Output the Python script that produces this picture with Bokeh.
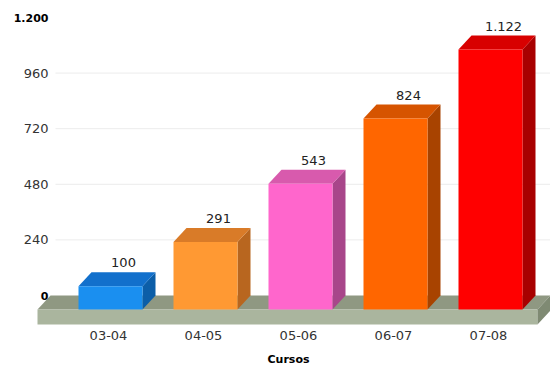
from bokeh.plotting import figure
from bokeh.models import Range1d
from bokeh.core.properties import value
from bokeh.embed import file_html
from bokeh.resources import INLINE

# ---- data ----
categories = ["03-04", "04-05", "05-06", "06-07", "07-08"]
values = [100, 291, 543, 824, 1122]
value_labels = ["100", "291", "543", "824", "1.122"]
y_ticks = [0, 240, 480, 720, 960, 1200]
y_tick_labels = ["0", "240", "480", "720", "960", "1.200"]
x_title = "Cursos"

# ---- styling / geometry (pixels) ----
front_colors = ["#1a8ff0", "#ff9933", "#ff66cc", "#ff6600", "#ff0000"]
top_colors = ["#1270cc", "#d97b28", "#d85aad", "#d65400", "#d80000"]
side_colors = ["#0c5ea8", "#b8661f", "#a8468a", "#a84300", "#a80000"]

W, H = 550, 367
X0_PX = 110.0        # pixel x of first bar front centre
STEP_PX = 95.0       # pixels per category
ZERO_PX = 295.0      # pixel y of value 0 (back plane)
PPU = 278.0 / 1200   # pixels per value unit

def xu(px):  # pixels -> x data units (offset)
    return px / STEP_PX

def yu(px):
    return px / PPU

DX = xu(13)
DY = yu(14)
HALF = xu(32)
TH = yu(15)

p = figure(width=W, height=H, output_backend="svg", toolbar_location=None,
           x_range=Range1d(-X0_PX / STEP_PX, (W - X0_PX) / STEP_PX),
           y_range=Range1d(-(H - ZERO_PX) / PPU, ZERO_PX / PPU),
           x_axis_location=None, y_axis_location=None, min_border=0)
p.outline_line_color = None
p.xgrid.visible = False
p.ygrid.visible = False
p.background_fill_color = "white"
p.border_fill_color = "white"

# gridlines (back plane)
grid_vals = [t for t in y_ticks if 0 < t < 1200]
p.segment(x0=[xu(55 - X0_PX)] * len(grid_vals), x1=[xu(W - X0_PX)] * len(grid_vals),
          y0=grid_vals, y1=grid_vals, line_color="#ececec", line_width=1)

# floor
fl = xu(37 - X0_PX)
fr = xu(537 - X0_PX)
p.patch([fl, fr, fr + DX, fl + DX], [-DY, -DY, 0, 0], fill_color="#8f9882", line_color=None)
p.patch([fl, fr, fr, fl], [-DY - TH, -DY - TH, -DY, -DY], fill_color="#aab59e", line_color=None)
p.patch([fr, fr + DX, fr + DX, fr], [-DY - TH, -TH, 0, -DY], fill_color="#7f8a73", line_color=None)

# bars
xs_front, ys_front, xs_top, ys_top, xs_side, ys_side = [], [], [], [], [], []
for i, v in enumerate(values):
    l, r = i - HALF, i + HALF
    xs_front.append([l, r, r, l]); ys_front.append([-DY, -DY, v - DY, v - DY])
    xs_top.append([l, r, r + DX, l + DX]); ys_top.append([v - DY, v - DY, v, v])
    xs_side.append([r, r + DX, r + DX, r]); ys_side.append([-DY, 0, v, v - DY])

p.patches(xs_side, ys_side, fill_color=side_colors, line_color=None)
p.patches(xs_top, ys_top, fill_color=top_colors, line_color=None)
p.patches(xs_front, ys_front, fill_color=front_colors, line_color=None)

# value labels
p.text(x=[i + DX for i in range(len(values))], y=values, text=value_labels,
       text_font=value("DejaVu Sans"), text_font_size="13px", text_color="#222222",
       text_align="center", text_baseline="bottom", y_offset=-5)

# y tick labels
reg = [i for i, t in enumerate(y_ticks) if 0 < t < 1200]
bold = [i for i, t in enumerate(y_ticks) if t in (0, 1200)]
p.text(x=[xu(48 - X0_PX)] * len(reg), y=[y_ticks[i] for i in reg],
       text=[y_tick_labels[i] for i in reg], text_font=value("DejaVu Sans"),
       text_font_size="13px", text_color="#333333", text_align="right", text_baseline="middle")
p.text(x=[xu(48 - X0_PX)] * len(bold), y=[y_ticks[i] for i in bold],
       text=[y_tick_labels[i] for i in bold], text_font=value("DejaVu Sans"),
       text_font_size="11px", text_font_style="bold", text_color="#000000",
       text_align="right", text_baseline="middle")

# x category labels
p.text(x=[i - xu(2) for i in range(len(categories))], y=[-yu(335 - ZERO_PX)] * len(categories),
       text=categories, text_font=value("DejaVu Sans"), text_font_size="13px",
       text_color="#333333", text_align="center", text_baseline="middle")

# axis title
p.text(x=[xu(288 - X0_PX)], y=[-yu(359 - ZERO_PX)], text=[x_title],
       text_font=value("DejaVu Sans"), text_font_size="11px", text_font_style="bold",
       text_color="#000000", text_align="center", text_baseline="middle")

open("out.html", "w").write(file_html(p, INLINE))
